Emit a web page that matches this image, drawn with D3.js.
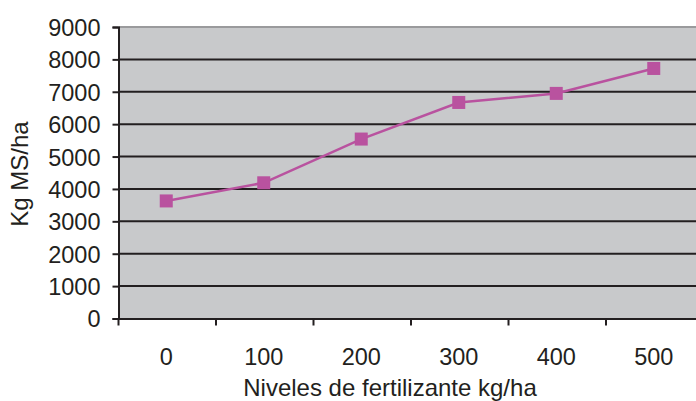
<!DOCTYPE html>
<html><head><meta charset="utf-8">
<script src="https://cdn.jsdelivr.net/npm/d3@7"></script>
<style>
html,body{margin:0;padding:0;background:#fff;}
svg{display:block;}
text{font-family:"Liberation Sans",Arial,Helvetica,sans-serif;fill:#231f20;}
</style></head>
<body><svg id="chart" width="696" height="401"></svg>
<script>
const categories = ["0","100","200","300","400","500"];
const values = [3630, 4190, 5540, 6670, 6950, 7720];
const yTicks = [0,1000,2000,3000,4000,5000,6000,7000,8000,9000];
const xTitle = "Niveles de fertilizante kg/ha";
const yTitle = "Kg MS/ha";

(function(){
const svg = d3.select("#chart");
const mLeft = 118.5, mRight = 703.5, mTop = 27, mBottom = 318.5;

const x = d3.scaleBand().domain(categories).range([mLeft, mRight]);
const y = d3.scaleLinear().domain([0, 9000]).range([mBottom, mTop]);

svg.append("rect").attr("x", mLeft).attr("y", mTop)
  .attr("width", mRight - mLeft).attr("height", mBottom - mTop)
  .attr("fill", "#c8c9cb");

// gridlines
svg.append("g").selectAll("line").data(yTicks.filter(d => d > 0)).join("line")
  .attr("x1", mLeft).attr("x2", mRight)
  .attr("y1", d => y(d)).attr("y2", d => y(d))
  .attr("stroke", d => d === 9000 ? "#9a9a9c" : "#231f20")
  .attr("stroke-width", 2);

// y axis
const yAxis = d3.axisLeft(y).tickValues(yTicks).tickSize(6).tickPadding(12)
  .tickFormat(d3.format("d"));
const gy = svg.append("g").attr("transform", `translate(${mLeft},0)`).call(yAxis);
gy.select(".domain").attr("stroke", "#231f20").attr("stroke-width", 2);
gy.selectAll(".tick line").attr("stroke", "#231f20").attr("stroke-width", 2);
gy.selectAll(".tick text").attr("font-size", 23.5).attr("fill", "#231f20")
  .attr("dy", "0.36em");

// x axis
const xAxis = d3.axisBottom(x).tickSize(0).tickPadding(30);
const gx = svg.append("g").attr("transform", `translate(0,${mBottom})`).call(xAxis);
gx.select(".domain").attr("stroke", "#231f20").attr("stroke-width", 2);
gx.selectAll(".tick text").attr("font-size", 23.5).attr("fill", "#231f20")
  .attr("dx", "-1");
// tick marks at band boundaries
const bounds = categories.map(c => x(c)).concat([x(categories[categories.length-1]) + x.bandwidth()]);
svg.append("g").selectAll("line").data(bounds).join("line")
  .attr("x1", d => d).attr("x2", d => d)
  .attr("y1", mBottom).attr("y2", mBottom + 7)
  .attr("stroke", "#231f20").attr("stroke-width", 2);

// line + markers
const cx = c => x(c) + x.bandwidth() / 2 - 1;
const line = d3.line().x((d, i) => cx(categories[i])).y(d => y(d));
svg.append("path").datum(values).attr("d", line)
  .attr("fill", "none").attr("stroke", "#b9529f").attr("stroke-width", 2.5);
const ms = 13;
svg.append("g").selectAll("rect").data(values).join("rect")
  .attr("x", (d, i) => cx(categories[i]) - ms / 2)
  .attr("y", d => y(d) - ms / 2)
  .attr("width", ms).attr("height", ms)
  .attr("fill", "#b9529f");

// titles
svg.append("text").attr("x", 390).attr("y", 396).attr("text-anchor", "middle")
  .attr("font-size", 24).text(xTitle);
svg.append("text").attr("transform", "translate(28,174) rotate(-90)")
  .attr("text-anchor", "middle").attr("font-size", 24).text(yTitle);
})();
</script></body></html>
